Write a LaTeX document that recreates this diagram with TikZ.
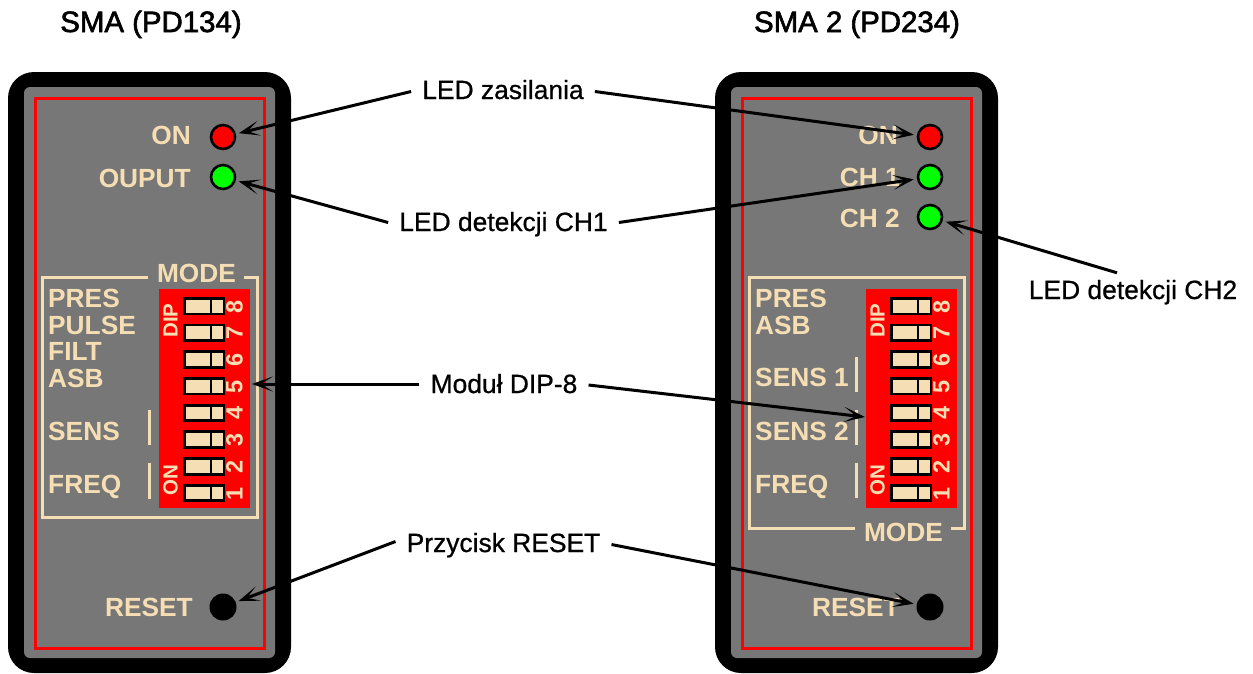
\documentclass[tikz,border=0pt]{standalone}
\usepackage{fontspec}
\setmainfont{Liberation Sans}
\usetikzlibrary{arrows.meta}
\definecolor{wheatc}{HTML}{F5DEB3}
\definecolor{panelgray}{HTML}{777777}
\newcommand{\Fsz}[1]{\fontsize{#1}{#1}\selectfont}
\newcommand{\Heavy}[2]{\special{pdf:code 2 Tr #1 w}#2\special{pdf:code 0 Tr 1 w}}
\tikzset{
 x=1pt,y=-1pt,
 casing/.style={fill=black,rounded corners=26pt},
 facep/.style={fill=panelgray,rounded corners=6pt},
 redframe/.style={draw=red,line width=3pt},
 modeframe/.style={draw=wheatc,line width=3pt},
 bar/.style={draw=wheatc,line width=3pt},
 plabel/.style={text=wheatc,inner sep=0pt,font=\Fsz{26.3}\bfseries},
 dipbody/.style={fill=red,draw=none,inner sep=0pt,minimum width=90.5pt,minimum height=219pt},
 swbox/.style={draw=black,fill=wheatc,line width=2.8pt,inner sep=0pt,minimum width=39.5pt,minimum height=15.6pt},
 diptext/.style={text=wheatc,inner sep=0pt,font=\Fsz{20.5}\bfseries,rotate=90},
 digit/.style={text=wheatc,inner sep=0pt,font=\Fsz{23.5}\bfseries,rotate=90},
 ledbase/.style={circle,draw=black,line width=2.6pt,inner sep=0pt,minimum size=24pt},
 resetbtn/.style={circle,fill=black,inner sep=0pt,minimum size=27pt},
 callout/.style={inner sep=0pt,inner xsep=11pt,font=\Fsz{26.4},text height=19pt,text depth=6pt},
 titletext/.style={inner sep=0pt,font=\Fsz{29.4}},
 pointer/.style={draw=black,line width=3pt,-{Stealth[length=21pt,width=15pt,inset=12pt]},shorten >=3pt},
 pointerfree/.style={draw=black,line width=3pt,-{Stealth[length=21pt,width=15pt,inset=12pt]}},
}
\newcommand{\DipBlock}[2]{% prefix, x offset
 \node[dipbody] (#1dip) at (#2+204.25,398.5) {};
 \foreach \i in {1,...,8}{
  \pgfmathsetmacro{\yy}{493-(\i-1)*26.7}
  \node[swbox] (#1sw\i) at (#2+204.25,\yy) {};
  \draw[black,line width=2.4pt] (#2+211,\yy-8) -- (#2+211,\yy+8);
  \node[digit] (#1dg\i) at (#2+234.5,\yy+0.5) {\i};
 }
 \node[diptext] (#1diplab) at (#2+170.5,320.5) {DIP};
 \node[diptext] (#1onlab) at (#2+170.5,480) {ON};
}
\begin{document}
\begin{tikzpicture}
\path[use as bounding box,fill=white] (0,0) rectangle (1253,673);
% casings
\path[casing] (8,72) rectangle (291,673);
\path[casing] (715,72) rectangle (998,673);
\path[facep] (24,87) rectangle (275,658);
\path[facep] (731,87) rectangle (982,658);
\path[redframe] (35,98) rectangle (264,648);
\path[redframe] (742,98) rectangle (971,648);
% titles
\node[titletext,anchor=base] (t1) at (151,32) {\Heavy{0.6}{SMA (PD134)}};
\node[titletext,anchor=base] (t2) at (857,32) {\Heavy{0.6}{SMA 2 (PD234)}};
% left panel
\node[plabel,anchor=base east] (onA) at (191,144) {ON};
\node[plabel,anchor=base east] (outA) at (191,187) {OUPUT};
\node[ledbase,fill=red] (ledA) at (223,137) {};
\node[ledbase,fill=green] (ledB) at (223,177) {};
\node[plabel,anchor=base east] (resA) at (193,616) {RESET};
\node[resetbtn] (btnA) at (223,607) {};
\draw[modeframe] (148,277) -- (42,277) -- (42,517) -- (257,517) -- (257,277) -- (244,277);
\node[plabel,anchor=base] (modeA) at (196.5,282) {MODE};
\node[plabel,anchor=base west] (a1) at (48,307) {PRES};
\node[plabel,anchor=base west] (a2) at (48,334) {PULSE};
\node[plabel,anchor=base west] (a3) at (48,360) {FILT};
\node[plabel,anchor=base west] (a4) at (48,387) {ASB};
\node[plabel,anchor=base west] (a5) at (48,440) {SENS};
\node[plabel,anchor=base west] (a6) at (48,493) {FREQ};
\draw[bar] (149,410) -- (149,445);
\draw[bar] (149,463) -- (149,499);
\DipBlock{A}{0}
% right panel
\node[plabel,anchor=base east] (onB) at (898,144) {ON};
\node[plabel,anchor=base east] (ch1) at (900,186) {CH 1};
\node[plabel,anchor=base east] (ch2) at (900,227) {CH 2};
\node[ledbase,fill=red] (ledC) at (930,137) {};
\node[ledbase,fill=green] (ledD) at (930,177) {};
\node[ledbase,fill=green] (ledE) at (930,217) {};
\node[plabel,anchor=base east] (resB) at (900,616) {RESET};
\node[resetbtn] (btnB) at (930,607) {};
\draw[modeframe] (855,528) -- (749,528) -- (749,277) -- (964,277) -- (964,528) -- (951,528);
\node[plabel,anchor=base] (modeB) at (903.5,541) {MODE};
\node[plabel,anchor=base west] (b1) at (755,307) {PRES};
\node[plabel,anchor=base west] (b2) at (755,334) {ASB};
\node[plabel,anchor=base west] (b3) at (755,386) {SENS 1};
\node[plabel,anchor=base west] (b4) at (755,440) {SENS 2};
\node[plabel,anchor=base west] (b5) at (755,493) {FREQ};
\draw[bar] (856,357) -- (856,392);
\draw[bar] (856,410) -- (856,445);
\draw[bar] (856,463) -- (856,498);
\DipBlock{B}{707}
% callouts
\node[callout,anchor=base] (lz) at (503,99) {\Heavy{0.2}{LED zasilania}};
\node[callout,anchor=base] (ld1) at (503.5,231) {\Heavy{0.2}{LED detekcji CH1}};
\node[callout,anchor=base] (ld2) at (1133,299) {\Heavy{0.2}{LED detekcji CH2}};
\node[callout,anchor=base] (dip8) at (504,393) {\Heavy{0.2}{Moduł DIP-8}};
\node[callout,anchor=base] (prs) at (503.5,552) {\Heavy{0.2}{Przycisk RESET}};
\coordinate (dipL) at (252,384);
\coordinate (dipR) at (865,417);
\draw[pointer] ([yshift=1pt]lz.west) -- (ledA);
\draw[pointer] ([yshift=1pt]lz.east) -- (ledC);
\draw[pointer] ([yshift=2pt]ld1.west) -- (ledB);
\draw[pointer] ([yshift=2pt]ld1.east) -- (ledD);
\draw[pointer] ([shift={(-16pt,7pt)}]ld2.north) -- (ledE);
\draw[pointerfree] ([yshift=2.5pt]dip8.west) -- (dipL);
\draw[pointerfree] ([yshift=1.5pt]dip8.east) -- (dipR);
\draw[pointer] ([yshift=4pt]prs.west) -- (btnA);
\draw[pointer] ([yshift=1pt]prs.east) -- (btnB);
\end{tikzpicture}
\end{document}
